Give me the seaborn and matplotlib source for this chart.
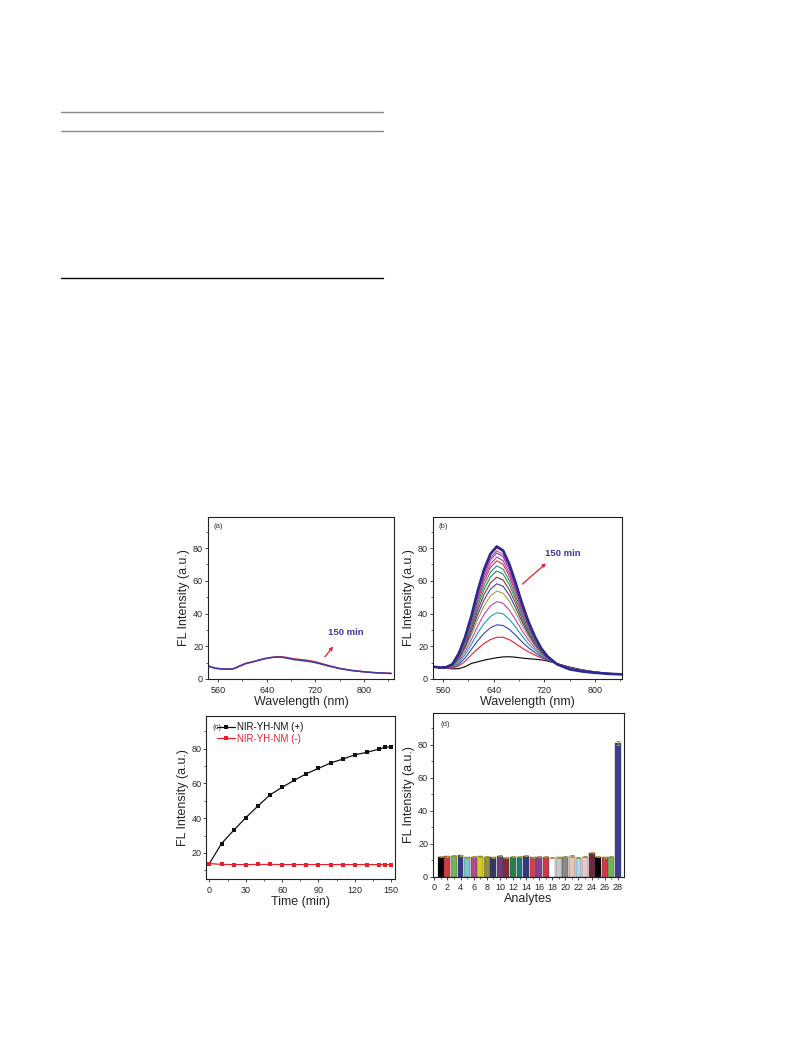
import numpy as np
import pandas as pd
import matplotlib
matplotlib.use("Agg")
import matplotlib.pyplot as plt
import seaborn as sns
from matplotlib.lines import Line2D
from matplotlib.ticker import MultipleLocator

sns.set_style("ticks")
plt.rcParams["font.family"] = ["Liberation Sans", "DejaVu Sans"]

# ---------------- data ----------------
wavelength = [545, 555, 565, 575, 585, 595, 605, 615, 625, 635, 645, 655, 665,
              675, 685, 695, 705, 715, 725, 740, 760, 780, 800, 820, 845]

# panel (a): control (no NM), 0 min and 150 min
spec_a_0 = [7.8, 6.6, 6.2, 6.0, 6.2, 7.8, 9.4, 10.3, 11.3, 12.3, 13.0, 13.5, 13.6,
            13.0, 12.3, 11.9, 11.5, 10.9, 10.0, 8.4, 6.5, 5.2, 4.4, 3.8, 3.4]
spec_a_150 = [7.8, 6.6, 6.2, 6.0, 6.2, 7.8, 9.4, 10.3, 11.3, 12.3, 13.0, 13.4, 13.3,
              12.6, 11.9, 11.4, 11.0, 10.4, 9.6, 8.1, 6.4, 5.2, 4.4, 3.8, 3.4]

# panel (b): spectra every 10 min
times_b = [0, 10, 20, 30, 40, 50, 60, 70, 80, 90, 100, 110, 120, 130, 140, 150]
spec_b = [
    [7.5, 6.8, 6.5, 6.2, 6.3, 7.5, 9.5, 10.5, 11.5, 12.3, 13.0, 13.5, 13.6, 13.3, 12.8, 12.4, 12.1, 11.7, 11.0, 9.4, 7.3, 5.6, 4.4, 3.5, 3.0],
    [7.5, 6.8, 6.6, 6.7, 8.0, 10.8, 14.8, 18.5, 21.7, 24.1, 25.5, 25.5, 24.0, 21.6, 18.9, 16.6, 14.7, 13.0, 11.5, 9.3, 7.0, 5.4, 4.3, 3.4, 3.0],
    [7.5, 6.9, 6.7, 7.0, 9.0, 12.8, 18.1, 23.4, 27.9, 31.3, 33.1, 32.7, 30.3, 26.7, 22.6, 19.1, 16.2, 13.8, 11.8, 9.3, 6.9, 5.3, 4.2, 3.4, 2.9],
    [7.5, 6.9, 6.8, 7.3, 10.0, 14.8, 21.2, 28.1, 33.9, 38.2, 40.5, 39.8, 36.4, 31.6, 26.2, 21.5, 17.7, 14.6, 12.1, 9.2, 6.7, 5.2, 4.2, 3.4, 2.9],
    [7.5, 6.9, 6.9, 7.6, 10.9, 16.6, 24.1, 32.4, 39.5, 44.7, 47.3, 46.3, 42.0, 36.1, 29.5, 23.8, 19.1, 15.3, 12.4, 9.2, 6.6, 5.1, 4.1, 3.4, 2.9],
    [7.5, 6.9, 6.9, 7.9, 11.8, 18.3, 26.9, 36.6, 44.7, 50.8, 53.7, 52.4, 47.4, 40.4, 32.7, 25.9, 20.4, 16.0, 12.7, 9.2, 6.5, 5.0, 4.0, 3.3, 2.9],
    [7.5, 6.9, 7.0, 8.1, 12.4, 19.5, 28.8, 39.4, 48.4, 54.9, 58.2, 56.7, 51.1, 43.3, 34.8, 27.4, 21.3, 16.4, 12.9, 9.1, 6.4, 4.9, 4.0, 3.3, 2.9],
    [7.5, 6.9, 7.0, 8.2, 13.0, 20.5, 30.5, 42.0, 51.6, 58.7, 62.2, 60.5, 54.4, 46.0, 36.8, 28.7, 22.2, 16.8, 13.0, 9.1, 6.3, 4.9, 4.0, 3.3, 2.9],
    [7.5, 7.0, 7.0, 8.4, 13.5, 21.5, 32.1, 44.4, 54.7, 62.3, 66.0, 64.1, 57.5, 48.5, 38.7, 30.0, 22.9, 17.2, 13.2, 9.1, 6.2, 4.8, 3.9, 3.3, 2.8],
    [7.5, 7.0, 7.1, 8.5, 13.9, 22.4, 33.4, 46.4, 57.3, 65.3, 69.1, 67.1, 60.1, 50.6, 40.2, 31.0, 23.6, 17.6, 13.3, 9.1, 6.1, 4.8, 3.9, 3.3, 2.8],
    [7.5, 7.0, 7.1, 8.6, 14.3, 23.2, 34.8, 48.4, 59.8, 68.2, 72.2, 70.1, 62.7, 52.7, 41.7, 32.1, 24.2, 17.9, 13.4, 9.1, 6.1, 4.7, 3.9, 3.2, 2.8],
    [7.5, 7.0, 7.1, 8.7, 14.6, 23.8, 35.7, 49.8, 61.7, 70.3, 74.5, 72.3, 64.6, 54.2, 42.8, 32.8, 24.7, 18.1, 13.5, 9.0, 6.0, 4.7, 3.9, 3.2, 2.8],
    [7.5, 7.0, 7.2, 8.8, 15.0, 24.4, 36.8, 51.4, 63.7, 72.7, 77.0, 74.7, 66.7, 55.8, 44.0, 33.7, 25.2, 18.4, 13.6, 9.0, 6.0, 4.7, 3.8, 3.2, 2.8],
    [7.5, 7.0, 7.2, 8.9, 15.1, 24.8, 37.4, 52.3, 64.8, 74.0, 78.4, 76.0, 67.8, 56.7, 44.7, 34.1, 25.5, 18.5, 13.7, 9.0, 6.0, 4.6, 3.8, 3.2, 2.8],
    [7.5, 7.0, 7.2, 9.0, 15.4, 25.3, 38.2, 53.6, 66.5, 75.9, 80.3, 77.9, 69.4, 58.1, 45.7, 34.8, 25.9, 18.7, 13.8, 9.0, 5.9, 4.6, 3.8, 3.2, 2.8],
    [7.5, 7.0, 7.2, 9.0, 15.5, 25.5, 38.5, 54.0, 67.0, 76.5, 81.0, 78.5, 70.0, 58.5, 46.0, 35.0, 26.0, 18.8, 13.8, 9.0, 5.9, 4.6, 3.8, 3.2, 2.8],
]
colors_b = ["#000000", "#E8202A", "#3344BB", "#1AA0A8", "#C040C0", "#A0A040",
            "#4040A8", "#8B2F3A", "#2E8B4A", "#2A8A8A", "#E8303A", "#B03AB0",
            "#8040B0", "#D04080", "#702090", "#2A2A90"]

# panel (c): kinetics
time_c = [0, 10, 20, 30, 40, 50, 60, 70, 80, 90, 100, 110, 120, 130, 140, 145, 150]
fl_plus = [13.9, 25.4, 33.0, 40.3, 47.0, 53.4, 57.8, 61.8, 65.6, 68.7, 71.8, 74.0,
           76.5, 77.9, 79.8, 80.8, 81.1]
fl_minus = [13.9, 13.4, 13.3, 13.3, 13.4, 13.4, 13.3, 13.3, 13.3, 13.3, 13.3, 13.3,
            13.3, 13.3, 13.3, 13.3, 13.3]

# panel (d): selectivity
analytes = list(range(1, 29))
fl_analytes = [12.0, 12.5, 12.6, 12.9, 11.8, 12.2, 12.4, 12.2, 11.8, 12.8, 11.6, 12.1,
               12.1, 12.8, 11.8, 12.1, 12.1, 11.4, 11.8, 12.2, 12.6, 11.4, 12.0, 14.4,
               12.1, 11.8, 12.0, 81.0]
err_analytes = [0.3, 0.3, 0.3, 0.4, 0.3, 0.3, 0.3, 0.3, 0.3, 0.4, 0.3, 0.3,
                0.3, 0.3, 0.3, 0.3, 0.3, 0.3, 0.3, 0.3, 0.4, 0.3, 0.3, 0.3,
                0.3, 0.3, 0.3, 1.3]
colors_d = ["#000000", "#E8202A", "#6CC24A", "#2B2B9A", "#6CCFD8", "#C0399A",
            "#F2E600", "#9A9A3A", "#2E2E6E", "#7A2E8E", "#8B2030", "#1E8A4A",
            "#0E8A8A", "#2A2A8A", "#E8283A", "#8A3A9A", "#E8203A", "#FFFFFF",
            "#C8C8C8", "#8A8A8A", "#F0C0A8", "#A8D8F0", "#F0C0C8", "#7A1E3A",
            "#000000", "#E8203A", "#6CC24A", "#2E2EA0"]

# ---------------- figure ----------------
W, H = 793, 1057
fig = plt.figure(figsize=(W / 100, H / 100), dpi=100)
fig.patch.set_facecolor("white")

def px_axes(l, t, r, b):
    return fig.add_axes([l / W, 1 - b / H, (r - l) / W, (b - t) / H])

# table rules at top of the page
for y, c in [(112.3, "#8a8a8a"), (130.7, "#8a8a8a"), (278.3, "#000000")]:
    fig.add_artist(Line2D([61 / W, 383 / W], [1 - y / H, 1 - y / H],
                          color=c, lw=1.0, transform=fig.transFigure))

axA = px_axes(207.7, 517, 394.3, 679)
axB = px_axes(432.7, 517, 621.7, 679)
axC = px_axes(206, 715.7, 394.5, 879)
axD = px_axes(432.7, 713.3, 623.7, 876.7)

LBL = 9
TCK = 6.5

def style(ax):
    for s in ax.spines.values():
        s.set_linewidth(0.8)
        s.set_color("#222222")
    ax.tick_params(which="major", direction="out", length=2.5, width=0.6,
                   labelsize=TCK, top=False, right=False)
    ax.tick_params(which="minor", direction="out", length=1.4, width=0.5,
                   top=False, right=False)
    ax.tick_params(axis="x", which="major", pad=2.2)
    ax.tick_params(axis="y", which="major", pad=0.8)
    ax.set_facecolor("white")

# (a)
sns.lineplot(x=wavelength, y=spec_a_0, ax=axA, color="#E0303A", lw=1.1)
sns.lineplot(x=wavelength, y=spec_a_150, ax=axA, color="#3A3AA8", lw=1.1)
axA.set_xlim(543, 850)
axA.set_ylim(0, 99)
axA.annotate("", xy=(752, 21.2), xytext=(733, 12.2),
             arrowprops=dict(arrowstyle="-|>", color="#E8202A", lw=0.9,
                             mutation_scale=5))
axA.text(770, 28.3, "150 min", color="#3A3AA8", fontsize=6.8, fontweight="bold",
         ha="center", va="center")

# (b)
for i, (vals, c) in enumerate(zip(spec_b, colors_b)):
    lw = 1.9 if i == len(spec_b) - 1 else 0.8
    sns.lineplot(x=wavelength, y=vals, ax=axB, color=c, lw=lw)
axB.set_xlim(544, 842)
axB.set_ylim(0, 99)
axB.annotate("", xy=(726, 71.8), xytext=(682, 56.9),
             arrowprops=dict(arrowstyle="-|>", color="#E8202A", lw=0.9,
                             mutation_scale=5))
axB.text(749, 76.9, "150 min", color="#3A3AA8", fontsize=6.8, fontweight="bold",
         ha="center", va="center")

for ax, lab in [(axA, "(a)"), (axB, "(b)")]:
    ax.set_xticks([560, 640, 720, 800])
    ax.xaxis.set_minor_locator(MultipleLocator(40))
    ax.set_yticks([0, 20, 40, 60, 80])
    ax.yaxis.set_minor_locator(MultipleLocator(10))
    ax.set_xlabel("Wavelength (nm)", fontsize=LBL, labelpad=1.2)
    ax.set_ylabel("FL Intensity (a.u.)", fontsize=LBL, labelpad=2)
    ax.text(0.03, 0.96, lab, transform=ax.transAxes, fontsize=5.5, va="top",
            ha="left", color="#333333")
    style(ax)

# (c)
dfc = pd.DataFrame({"t": time_c * 2, "fl": fl_plus + fl_minus,
                    "s": ["NIR-YH-NM (+)"] * len(time_c) + ["NIR-YH-NM (-)"] * len(time_c)})
sns.lineplot(data=dfc, x="t", y="fl", hue="s", palette=["#111111", "#E8202A"],
             marker="s", markersize=2.2, markeredgewidth=0, lw=0.9, ax=axC)
axC.set_xlim(-2.8, 152.7)
axC.set_ylim(5, 99)
axC.set_xticks([0, 30, 60, 90, 120, 150])
axC.xaxis.set_minor_locator(MultipleLocator(15))
axC.set_yticks([20, 40, 60, 80])
axC.yaxis.set_minor_locator(MultipleLocator(10))
axC.set_xlabel("Time (min)", fontsize=LBL, labelpad=1.2)
axC.set_ylabel("FL Intensity (a.u.)", fontsize=LBL, labelpad=2)
leg = axC.legend(loc="upper left", bbox_to_anchor=(0.06, 0.96), frameon=False,
                 fontsize=7, handlelength=1.8, handletextpad=0.2, labelspacing=0.15,
                 borderpad=0, borderaxespad=0)
for txt, c in zip(leg.get_texts(), ["#111111", "#E8202A"]):
    txt.set_color(c)
axC.text(0.035, 0.95, "(c)", transform=axC.transAxes, fontsize=5.5, va="top",
         ha="left", color="#333333")
style(axC)

# (d)
dfd = pd.DataFrame({"a": analytes, "fl": fl_analytes})
sns.barplot(data=dfd, x="a", y="fl", hue="a", palette=colors_d, native_scale=True,
            dodge=False, width=0.9, errorbar=None, legend=False, ax=axD,
            edgecolor="#444444", linewidth=0.25)
axD.errorbar(analytes, fl_analytes, yerr=err_analytes, fmt="none",
             ecolor="#9A9A30", elinewidth=0.7, capsize=1.2, capthick=0.7)
axD.set_xlim(-0.25, 28.9)
axD.set_ylim(0, 99)
axD.set_xticks(list(range(0, 29, 2)))
axD.xaxis.set_minor_locator(MultipleLocator(1))
axD.set_yticks([0, 20, 40, 60, 80])
axD.yaxis.set_minor_locator(MultipleLocator(10))
axD.set_xlabel("Analytes", fontsize=LBL, labelpad=0.8)
axD.set_ylabel("FL Intensity (a.u.)", fontsize=LBL, labelpad=2)
axD.text(0.04, 0.95, "(d)", transform=axD.transAxes, fontsize=5.5, va="top",
         ha="left", color="#333333")
style(axD)

fig.savefig("out.png", dpi=100, facecolor="white")
